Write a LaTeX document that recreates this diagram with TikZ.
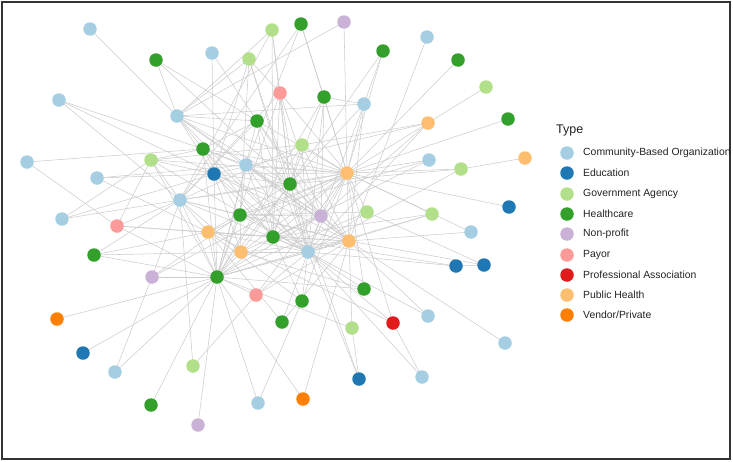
\documentclass[tikz,border=0pt]{standalone}
\usepackage{fontspec}
\setmainfont{Liberation Sans}
\usetikzlibrary{backgrounds}
\definecolor{cbo}{HTML}{A6CEE3}
\definecolor{edu}{HTML}{1F78B4}
\definecolor{gov}{HTML}{B2DF8A}
\definecolor{hc}{HTML}{33A02C}
\definecolor{np}{HTML}{CAB2D6}
\definecolor{pay}{HTML}{FB9A99}
\definecolor{prof}{HTML}{E31A1C}
\definecolor{ph}{HTML}{FDBF6F}
\definecolor{vend}{HTML}{FF7F00}
\definecolor{edgegray}{HTML}{CDCDCD}
\definecolor{frame}{HTML}{333333}
\definecolor{txt}{HTML}{222222}
\tikzset{
  vtx/.style={circle,inner sep=0pt,minimum size=13.5pt,fill=#1},
  edge/.style={draw=edgegray,line width=0.55pt},
  legtxt/.style={anchor=west,inner sep=0pt,text=txt,font=\fontsize{10.4}{12}\selectfont},
}
\begin{document}
\begin{tikzpicture}[x=1pt,y=-1pt]
\useasboundingbox (0,0) rectangle (733,461);
\draw[frame,line width=2.5pt] (2,2) rectangle (730,459);
% CBO
\node[vtx=cbo] (c1) at (90,29) {};
\node[vtx=cbo] (c2) at (212,53) {};
\node[vtx=cbo] (c3) at (59,100) {};
\node[vtx=cbo] (c4) at (177,116) {};
\node[vtx=cbo] (c5) at (27,162) {};
\node[vtx=cbo] (c6) at (97,178) {};
\node[vtx=cbo] (c7) at (246,165) {};
\node[vtx=cbo] (c8) at (180,200) {};
\node[vtx=cbo] (c9) at (62,219) {};
\node[vtx=cbo] (c10) at (427,37) {};
\node[vtx=cbo] (c11) at (364,104) {};
\node[vtx=cbo] (c12) at (429,160) {};
\node[vtx=cbo] (c13) at (471,232) {};
\node[vtx=cbo] (c14) at (308,252) {};
\node[vtx=cbo] (c15) at (428,316) {};
\node[vtx=cbo] (c16) at (505,343) {};
\node[vtx=cbo] (c17) at (422,377) {};
\node[vtx=cbo] (c18) at (115,372) {};
\node[vtx=cbo] (c19) at (258,403) {};
% Education
\node[vtx=edu] (d1) at (214,174) {};
\node[vtx=edu] (d2) at (509,207) {};
\node[vtx=edu] (d3) at (456,266) {};
\node[vtx=edu] (d4) at (484,265) {};
\node[vtx=edu] (d5) at (83,353) {};
\node[vtx=edu] (d6) at (359,379) {};
% Government
\node[vtx=gov] (l1) at (272,30) {};
\node[vtx=gov] (l2) at (249,59) {};
\node[vtx=gov] (l3) at (151,160) {};
\node[vtx=gov] (l4) at (302,145) {};
\node[vtx=gov] (l5) at (486,87) {};
\node[vtx=gov] (l6) at (461,169) {};
\node[vtx=gov] (l7) at (367,212) {};
\node[vtx=gov] (l8) at (432,214) {};
\node[vtx=gov] (l9) at (352,328) {};
\node[vtx=gov] (l10) at (193,366) {};
% Healthcare
\node[vtx=hc] (g1) at (156,60) {};
\node[vtx=hc] (g2) at (301,24) {};
\node[vtx=hc] (g3) at (383,51) {};
\node[vtx=hc] (g4) at (458,60) {};
\node[vtx=hc] (g5) at (324,97) {};
\node[vtx=hc] (g6) at (257,121) {};
\node[vtx=hc] (g7) at (508,119) {};
\node[vtx=hc] (g8) at (203,149) {};
\node[vtx=hc] (g9) at (290,184) {};
\node[vtx=hc] (g10) at (240,215) {};
\node[vtx=hc] (g11) at (273,237) {};
\node[vtx=hc] (g12) at (94,255) {};
\node[vtx=hc] (g13) at (217,277) {};
\node[vtx=hc] (g14) at (302,301) {};
\node[vtx=hc] (g15) at (364,289) {};
\node[vtx=hc] (g16) at (282,322) {};
\node[vtx=hc] (g17) at (151,405) {};
% Non-profit
\node[vtx=np] (n1) at (344,22) {};
\node[vtx=np] (n2) at (321,216) {};
\node[vtx=np] (n3) at (152,277) {};
\node[vtx=np] (n4) at (198,425) {};
% Payor
\node[vtx=pay] (r1) at (280,93) {};
\node[vtx=pay] (r2) at (117,226) {};
\node[vtx=pay] (r3) at (256,295) {};
% Professional
\node[vtx=prof] (pa) at (393,323) {};
% Public health
\node[vtx=ph] (p1) at (428,123) {};
\node[vtx=ph] (p2) at (347,173) {};
\node[vtx=ph] (p3) at (525,158) {};
\node[vtx=ph] (p4) at (208,232) {};
\node[vtx=ph] (p5) at (241,252) {};
\node[vtx=ph] (p6) at (349,241) {};
% Vendor
\node[vtx=vend] (o1) at (57,319) {};
\node[vtx=vend] (o2) at (303,399) {};
\begin{scope}[on background layer]
\foreach \a/\b in {c1/c4,g1/c4,g1/g6,g1/g9,c2/d1,c2/g6,l2/c4,l2/g10,l2/g9,l2/c14,l2/d1,l2/r1,
 l1/c8,l1/g11,l1/c4,l1/r1,l1/g9,g2/p2,g2/c7,g2/g5,g2/c8,n1/p2,n1/c4,c10/p6,g3/c11,g3/g9,g3/p2,
 g4/p2,l5/p1,p1/p2,p1/n2,p1/l4,p1/c14,p1/d1,g7/p2,c12/p2,c12/g11,c12/g10,p3/l6,l6/p2,l6/c14,
 l6/g9,d2/p2,l8/p2,l8/c14,l8/g11,l7/p2,l7/g10,c13/p6,c13/p2,d3/d4,d3/c14,d3/g11,d4/p6,d4/l7,
 c15/p6,c15/c14,c17/pa,c17/c14,pa/c14,pa/p4,pa/p2,l9/d6,l9/p6,l9/g13,d6/c14,d6/g9,g15/c14,
 g15/p2,g15/g13,g15/p5,g14/c14,g14/g11,g14/p4,g14/p2,g16/c14,g16/p6,g16/p4,o2/p6,o2/g13,
 c19/g13,c19/g14,n4/g13,g17/g13,l10/r3,l10/c8,c18/n3,c18/g13,d5/g13,o1/g13,g12/g13,g12/c8,
 g12/p4,g12/p5,n3/g13,n3/c8,n3/g10,n3/p2,r2/g13,r2/c8,r2/g11,r2/l3,r2/p4,c9/c8,c9/d1,c9/l3,
 c5/g8,c5/r2,c6/d1,c6/p4,c6/c7,l3/g8,l3/g13,l3/c8,l3/d1,l3/c14,l3/p2,c3/g8,c3/c8,c3/d1,
 r1/g13,r1/p2,r1/c8,r1/c14,r1/g9,r1/g11,r1/n2,g5/c11,g5/c14,g5/g13,g5/g9,g5/p2,g5/n2,
 c11/c14,c11/p2,c11/g9,c11/c4,c11/p6,g6/p2,g6/g11,g6/c8,g6/c14,g6/g13,g6/p6,g6/n2,
 g8/p2,g8/c14,g8/g13,g8/g6,g8/c7,g8/g10,g8/g9,c4/p2,c4/g9,c4/c14,c4/g6,c4/d1,c4/g11,c4/p6,
 c4/n2,l4/p2,l4/g13,l4/l3,l4/c14,l4/g11,l4/c8,l4/p6,c7/p2,c7/g11,c7/c14,c7/n2,c7/g10,c7/p6,
 c7/g13,d1/p2,d1/c14,d1/g13,d1/g11,d1/p5,d1/g9,d1/n2,d1/p6,g9/p2,g9/g13,g9/c8,g9/c14,g9/g11,
 g9/n2,g9/p6,g9/p4,g9/p5,c8/p2,c8/c14,c8/g13,c8/p6,c8/g10,c8/p4,c8/p5,g10/g13,g10/c14,
 g10/p2,g10/p6,g10/n2,g10/p5,p4/p2,p4/c14,p4/g13,p4/g11,p4/p6,n2/p2,n2/g13,n2/c14,n2/p6,
 n2/g11,n2/p5,g11/p2,g11/c14,g11/g13,g11/p6,p5/p2,p5/c14,p5/g13,p5/p6,c14/p2,c14/p6,c14/g13,
 p6/p2,p6/g13,r3/g13,r3/c14,r3/p2,r3/p6,c16/p6,l7/c14,l7/g13,l8/g13}
  \draw[edge] (\a.center) -- (\b.center);
\end{scope}
% Legend
\node[anchor=west,inner sep=0pt,text=txt,font=\fontsize{12.5}{14}\selectfont] (legtitle) at (556,130) {Type};
\node[vtx=cbo] (k1) at (567,153) {};  \node[legtxt] (t1) at (583,153) {Community-Based Organization};
\node[vtx=edu] (k2) at (567,173) {};  \node[legtxt] (t2) at (583,173) {Education};
\node[vtx=gov] (k3) at (567,194) {};  \node[legtxt] (t3) at (583,194) {Government Agency};
\node[vtx=hc] (k4) at (567,214) {};   \node[legtxt] (t4) at (583,214) {Healthcare};
\node[vtx=np] (k5) at (567,234) {};   \node[legtxt] (t5) at (583,234) {Non-profit};
\node[vtx=pay] (k6) at (567,255) {};  \node[legtxt] (t6) at (583,255) {Payor};
\node[vtx=prof] (k7) at (567,275) {}; \node[legtxt] (t7) at (583,275) {Professional Association};
\node[vtx=ph] (k8) at (567,295) {};   \node[legtxt] (t8) at (583,295) {Public Health};
\node[vtx=vend] (k9) at (567,315) {}; \node[legtxt] (t9) at (583,315) {Vendor/Private};
\end{tikzpicture}
\end{document}
